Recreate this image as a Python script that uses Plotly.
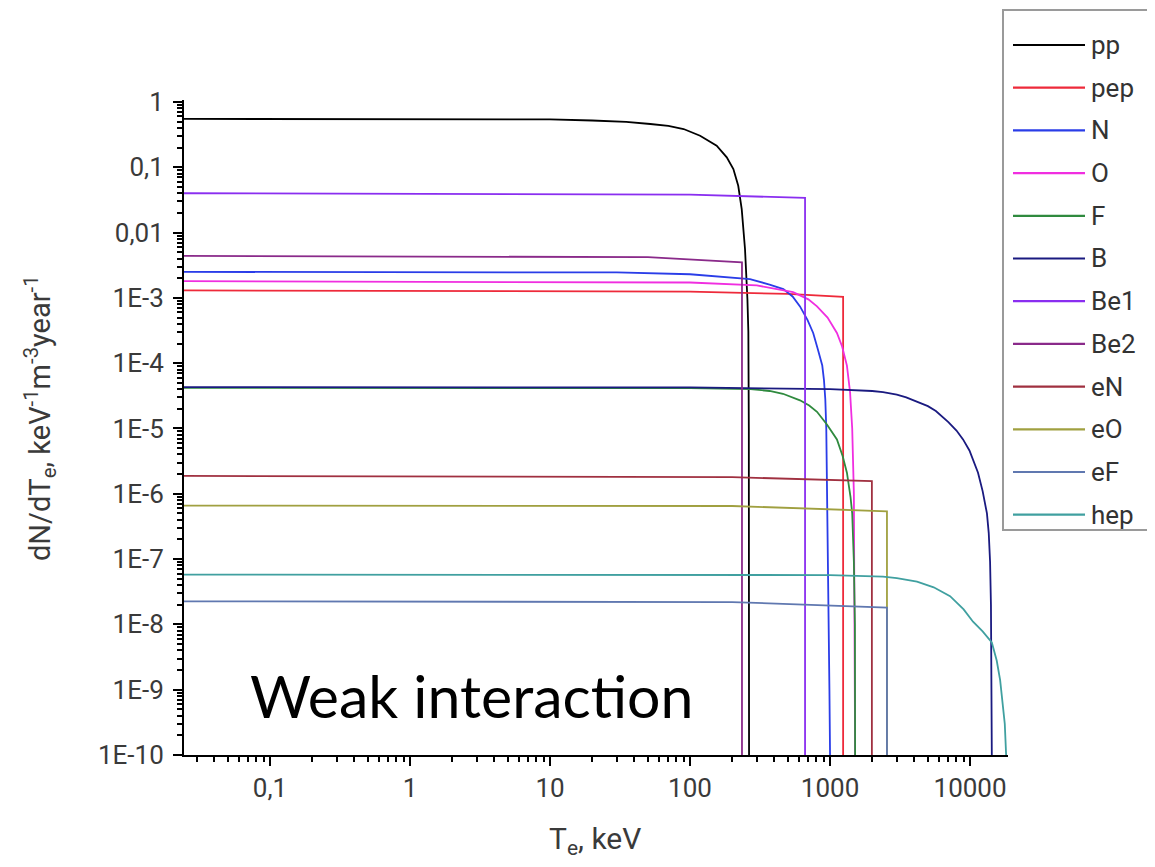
import plotly.graph_objects as go

# ---------------- data ----------------
names = ["pp", "pep", "N", "O", "F", "B", "Be1", "Be2", "eN", "eO", "eF", "hep"]
colors = ["#000000", "#ee2a3a", "#2a3de8", "#f02ee0", "#2f8a3e", "#1a1a80",
          "#8a2ef0", "#8a2a8a", "#a03040", "#a0a040", "#6078b0", "#40a0a0"]

pp_x = [0.0243, 1, 10, 20, 35, 52, 70, 90, 118, 155, 183, 204, 221, 234, 247, 257, 261, 263, 264]
pp_y = [0.55, 0.55, 0.54, 0.52, 0.495, 0.46, 0.43, 0.385, 0.304, 0.214, 0.142, 0.094, 0.052, 0.0229, 5.6e-3, 9.5e-4, 3e-4, 1e-5, 1e-10]

pep_x = [0.0243, 100, 500, 1240, 1240]
pep_y = [1.3e-3, 1.25e-3, 1.15e-3, 1.04e-3, 1e-10]

N_x = [0.0243, 30, 100, 180, 268, 370, 464, 540, 610, 690, 758, 820, 880, 905, 925, 940, 955, 975, 990, 1000]
N_y = [2.5e-3, 2.45e-3, 2.3e-3, 2.1e-3, 1.93e-3, 1.6e-3, 1.36e-3, 1.05e-3, 7.4e-4, 4.6e-4, 2.9e-4, 1.6e-4, 9.2e-5, 5.5e-5, 2.8e-5, 1e-5, 1e-6, 1e-8, 1e-9, 1e-10]

O_x = [0.0243, 100, 300, 545, 700, 807, 960, 1120, 1220, 1320, 1390, 1440, 1480, 1500, 1510]
O_y = [1.8e-3, 1.72e-3, 1.55e-3, 1.22e-3, 9.5e-4, 7.4e-4, 5e-4, 2.9e-4, 1.8e-4, 9.2e-5, 3.6e-5, 1e-5, 1e-6, 1e-8, 1e-10]

F_x = [0.0243, 100, 270, 370, 461, 610, 710, 807, 950, 1050, 1120, 1230, 1320, 1400, 1440, 1480, 1505, 1510]
F_y = [4.2e-5, 4.15e-5, 4.0e-5, 3.75e-5, 3.4e-5, 2.7e-5, 2.25e-5, 1.8e-5, 1.15e-5, 8.5e-6, 6.8e-6, 3.8e-6, 2.1e-6, 9e-7, 5e-7, 9e-8, 1e-8, 1e-10]

B_x = [0.0243, 100, 1000, 1500, 2000, 2390, 3000, 3500, 4180, 5000, 5700, 6410, 7000, 8000, 8910, 9900, 10500, 11400, 12300, 13200, 13600, 13900, 14100, 14300]
B_y = [4.3e-5, 4.25e-5, 4.0e-5, 3.9e-5, 3.75e-5, 3.6e-5, 3.3e-5, 3.0e-5, 2.6e-5, 2.2e-5, 1.85e-5, 1.5e-5, 1.25e-5, 9.3e-6, 6.8e-6, 4.6e-6, 3.3e-6, 2.1e-6, 1.1e-6, 5e-7, 2.5e-7, 9e-8, 2e-8, 1e-10]

Be1_x = [0.0243, 100, 663, 663]
Be1_y = [0.040, 0.038, 0.034, 1e-10]

Be2_x = [0.0243, 50, 235, 235]
Be2_y = [4.4e-3, 4.2e-3, 3.5e-3, 1e-10]

eN_x = [0.0243, 200, 1990, 1990]
eN_y = [1.88e-6, 1.8e-6, 1.56e-6, 1e-10]

eO_x = [0.0243, 200, 2550, 2550]
eO_y = [6.6e-7, 6.5e-7, 5.4e-7, 1e-10]

eF_x = [0.0243, 200, 2550, 2550]
eF_y = [2.25e-8, 2.2e-8, 1.8e-8, 1e-10]

hep_x = [0.0243, 1000, 2390, 3000, 4180, 5500, 7200, 9000, 10500, 12300, 14300, 15500, 16400, 17200, 17700, 18100]
hep_y = [5.8e-8, 5.7e-8, 5.4e-8, 5.1e-8, 4.5e-8, 3.7e-8, 2.7e-8, 1.7e-8, 1.1e-8, 7.8e-9, 5.3e-9, 2.8e-9, 1.4e-9, 6e-10, 3e-10, 1e-10]

series_x = [pp_x, pep_x, N_x, O_x, F_x, B_x, Be1_x, Be2_x, eN_x, eO_x, eF_x, hep_x]
series_y = [pp_y, pep_y, N_y, O_y, F_y, B_y, Be1_y, Be2_y, eN_y, eO_y, eF_y, hep_y]

x_tickvals = [0.1, 1, 10, 100, 1000, 10000]
x_ticktext = ["0,1", "1", "10", "100", "1000", "10000"]
y_tickvals = [1, 0.1, 0.01, 1e-3, 1e-4, 1e-5, 1e-6, 1e-7, 1e-8, 1e-9, 1e-10]
y_ticktext = ["1", "0,1", "0,01", "1E-3", "1E-4", "1E-5", "1E-6", "1E-7", "1E-8", "1E-9", "1E-10"]

# ---------------- layout geometry (page pixels) ----------------
W, H = 1155, 867
OFF = 8            # default body margin of the html page
L, R, T, Bm = 184, 1008, 100, 755

def px(x):
    return (x - L) / (R - L)

def py(y):
    return (Bm - y) / (Bm - T)

fig = go.Figure()
for nm, c, xs, ys in zip(names, colors, series_x, series_y):
    fig.add_trace(go.Scatter(x=xs, y=ys, mode="lines", name=nm,
                             line=dict(color=c, width=1.8), showlegend=False))

x_minor = [k * 10.0 ** d for d in range(-2, 5) for k in range(2, 10)]
y_minor = [k * 10.0 ** d for d in range(-10, 0) for k in range(2, 10)]

tickfont = dict(family="Roboto, Arial, sans-serif", size=26, color="#3a3a3a")

fig.update_xaxes(type="log", range=[-1.614, 4.271], tickmode="array",
                 tickvals=x_tickvals, ticktext=x_ticktext,
                 showline=True, linecolor="black", linewidth=2,
                 ticks="outside", ticklen=9, tickwidth=2, tickcolor="black",
                 showgrid=False, zeroline=False, tickfont=tickfont,
                 minor=dict(tickmode="array", tickvals=x_minor, ticks="outside",
                            ticklen=5, tickwidth=1.5, tickcolor="black", showgrid=False))
fig.update_yaxes(type="log", range=[-10, 0.03], tickmode="array",
                 tickvals=y_tickvals, ticktext=y_ticktext,
                 showline=True, linecolor="black", linewidth=2,
                 ticks="outside", ticklen=9, tickwidth=2, tickcolor="black",
                 ticklabelstandoff=4,
                 showgrid=False, zeroline=False, tickfont=tickfont,
                 minor=dict(tickmode="array", tickvals=y_minor, ticks="outside",
                            ticklen=5, tickwidth=1.5, tickcolor="black", showgrid=False))

annotations = []
shapes = []

# axis titles
annotations.append(dict(xref="paper", yref="paper", x=px(40), y=py(418),
                        text="dN/dT<sub>e</sub>, keV<sup>-1</sup>m<sup>-3</sup>year<sup>-1</sup>",
                        textangle=-90, showarrow=False, xanchor="center", yanchor="middle",
                        font=dict(family="Roboto, Arial, sans-serif", size=29, color="#3a3a3a")))
annotations.append(dict(xref="paper", yref="paper", x=px(595), y=py(840),
                        text="T<sub>e</sub>, keV", showarrow=False,
                        xanchor="center", yanchor="middle",
                        font=dict(family="Roboto, Arial, sans-serif", size=30, color="#3a3a3a")))

# big label
annotations.append(dict(xref="paper", yref="paper", x=px(248), y=py(695),
                        text="Weak interaction", showarrow=False,
                        xanchor="left", yanchor="middle",
                        font=dict(family="Lato, sans-serif", size=59, color="black")))

# manual legend
shapes.append(dict(type="rect", xref="paper", yref="paper",
                   x0=px(1003), x1=px(1170), y0=py(530), y1=py(10),
                   line=dict(color="#9a9a9a", width=2), fillcolor="white", layer="below"))
for i, (nm, c) in enumerate(zip(names, colors)):
    yy = 45 + 42.7 * i
    shapes.append(dict(type="line", xref="paper", yref="paper",
                       x0=px(1013), x1=px(1085), y0=py(yy), y1=py(yy),
                       line=dict(color=c, width=2.2)))
    annotations.append(dict(xref="paper", yref="paper", x=px(1089), y=py(yy),
                            text=nm, showarrow=False, xanchor="left", yanchor="middle",
                            font=dict(family="Roboto, Arial, sans-serif", size=26, color="#333333")))

fig.update_layout(width=W, height=H,
                  margin=dict(l=L - OFF, r=W + OFF - R, t=T - OFF, b=H + OFF - Bm),
                  plot_bgcolor="white", paper_bgcolor="white",
                  annotations=annotations, shapes=shapes, showlegend=False)

fig.write_html("out.html")
